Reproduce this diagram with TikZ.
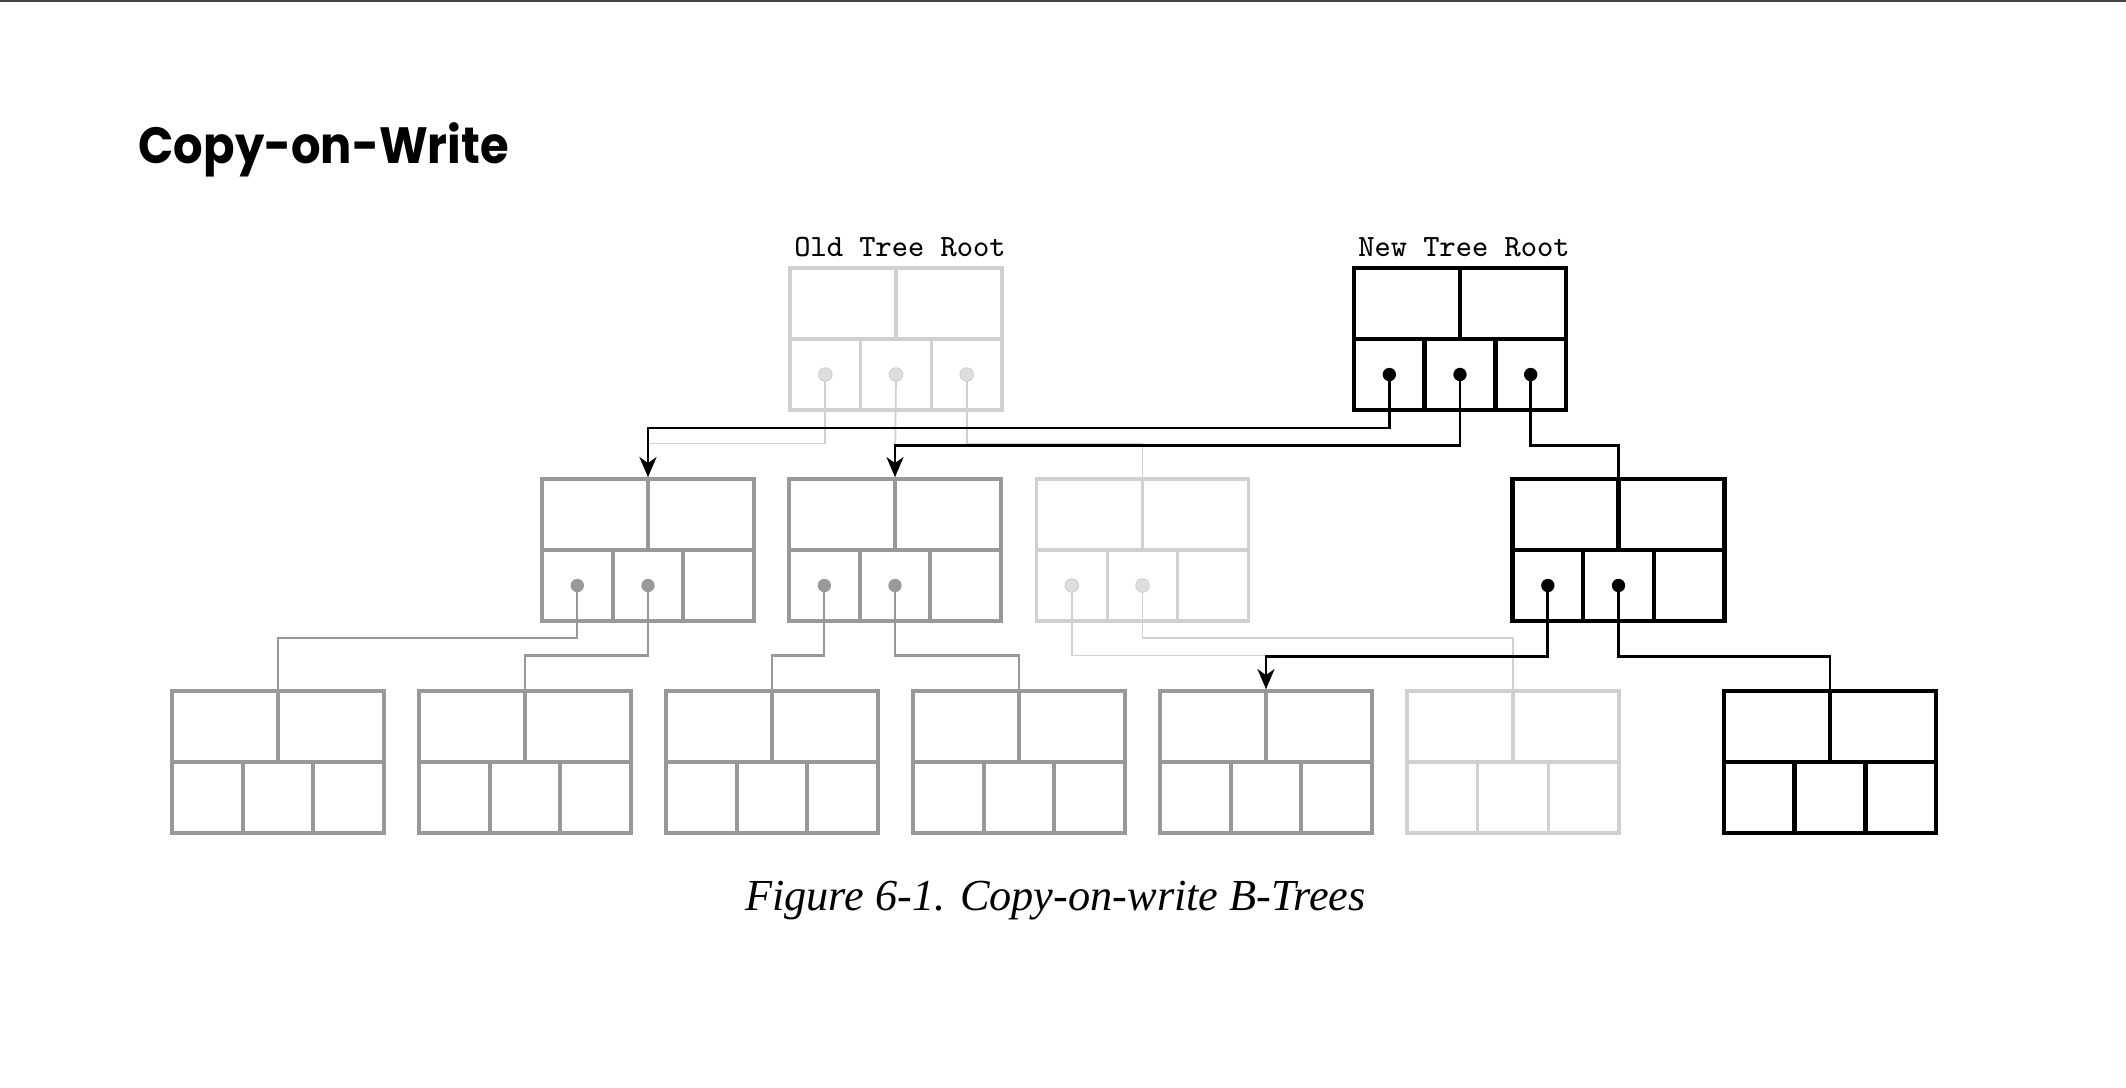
\documentclass[tikz,border=0pt]{standalone}
\usepackage{fontspec}
\usepackage{tikz}
\usetikzlibrary{arrows.meta}
\newfontfamily\titlefont{Poppins}
\newfontfamily\capfont{Liberation Serif}

\definecolor{fadegray}{HTML}{D0D0D0}
\definecolor{midgray}{HTML}{999999}
\definecolor{rulegray}{HTML}{444444}

\tikzset{
  btbox/.style={draw, inner sep=0pt, minimum width=2.12cm, minimum height=1.42cm},
  oldtree/.style={draw=fadegray, line width=0.9pt},
  shared/.style={draw=midgray, line width=1.05pt},
  newtree/.style={draw=black, line width=1.25pt},
  oldlink/.style={draw=fadegray, line width=0.5pt},
  sharedlink/.style={draw=midgray, line width=0.6pt},
  newlink/.style={draw=black, line width=0.8pt},
  ptr/.style={-{Stealth[length=0.2cm, width=0.17cm, inset=0.06cm]}},
  dotold/.style={fill=fadegray!70, draw=fadegray, line width=0.3pt},
  dotshared/.style={fill=midgray},
  dotnew/.style={fill=black}
}

% B-tree page: #1 name, #2 style, #3 left, #4 top
\newcommand{\bpage}[4]{%
  \node[btbox, #2] (#1) at (#3+106,#4+71) {};
  \draw[#2] (#1.north) -- (#1.center);
  \draw[#2] (#1.west) -- (#1.east);
  \draw[#2] (#3+70.67,#4+71) -- (#3+70.67,#4+142);
  \draw[#2] (#3+141.33,#4+71) -- (#3+141.33,#4+142);
  \coordinate (#1-p1) at (#3+35.33,#4+106.5);
  \coordinate (#1-p2) at (#3+106,#4+106.5);
  \coordinate (#1-p3) at (#3+176.67,#4+106.5);
}

\begin{document}
\begin{tikzpicture}[x=0.01cm, y=-0.01cm]
  \useasboundingbox (0,0) rectangle (2126,1087);
  \fill[white] (0,0) rectangle (2126,1087);
  \draw[rulegray, line width=0.5pt] (0,1) -- (2126,1);

  \node[anchor=base west, inner sep=0pt, xscale=0.91, font=\titlefont\bfseries\fontsize{14.5}{17}\selectfont] (title) at (138,163) {Copy-on-Write};

  % roots
  \bpage{old}{oldtree}{790}{268}
  \bpage{new}{newtree}{1354}{268}
  \node[anchor=base, inner sep=0pt, font=\ttfamily\fontsize{8.8}{10}\selectfont] (oldlabel) at (900,256.5) {Old Tree Root};
  \node[anchor=base, inner sep=0pt, font=\ttfamily\fontsize{8.8}{10}\selectfont] (newlabel) at (1464,256.5) {New Tree Root};

  % inner pages
  \bpage{A}{shared}{542}{479}
  \bpage{B}{shared}{789}{479}
  \bpage{C}{oldtree}{1036.5}{479}
  \bpage{D}{newtree}{1512.5}{479}

  % leaves
  \bpage{L1}{shared}{172}{691}
  \bpage{L2}{shared}{419}{691}
  \bpage{L3}{shared}{666}{691}
  \bpage{L4}{shared}{913}{691}
  \bpage{L5}{shared}{1160}{691}
  \bpage{L6}{oldtree}{1407}{691}
  \bpage{L7}{newtree}{1724}{691}

  % old tree links
  \draw[oldlink] (old-p1) -- ++(0,69) -| (A.north);
  \draw[oldlink] (old-p2) -- (B.north);
  \draw[oldlink] (old-p3) -- ++(0,69) -| (C.north);
  \draw[oldlink] (C-p1) -- ++(0,70) -| (L5.north);
  \draw[oldlink] (C-p2) -- ++(0,52.5) -| (L6.north);

  % shared links
  \draw[sharedlink] (A-p1) -- ++(0,52.5) -| (L1.north);
  \draw[sharedlink] (A-p2) -- ++(0,70) -| (L2.north);
  \draw[sharedlink] (B-p1) -- ++(0,70) -| (L3.north);
  \draw[sharedlink] (B-p2) -- ++(0,70) -| (L4.north);

  % new tree links
  \draw[newlink, ptr] (new-p1) -- ++(0,53.5) -| (A.north);
  \draw[newlink, ptr] (new-p2) -- ++(0,70.7) -| (B.north);
  \draw[newlink] (new-p3) -- ++(0,70.7) -| (D.north);
  \draw[newlink, ptr] (D-p1) -- ++(0,70.7) -| (L5.north);
  \draw[newlink] (D-p2) -- ++(0,70.7) -| (L7.north);

  % pointer dots
  \foreach \p in {old-p1,old-p2,old-p3,C-p1,C-p2}
    \filldraw[dotold] (\p) circle[radius=1.9pt];
  \foreach \p in {A-p1,A-p2,B-p1,B-p2}
    \fill[dotshared] (\p) circle[radius=1.9pt];
  \foreach \p in {new-p1,new-p2,new-p3,D-p1,D-p2}
    \fill[dotnew] (\p) circle[radius=1.9pt];

  \node[anchor=base, inner sep=0pt, font=\capfont\itshape\fontsize{12.6}{15}\selectfont] (caption) at (1055.5,910) {Figure 6-1. Copy-on-write B-Trees};
\end{tikzpicture}
\end{document}
